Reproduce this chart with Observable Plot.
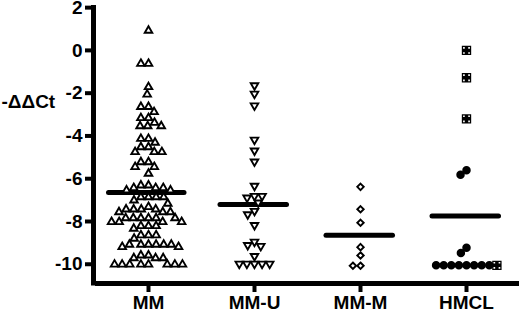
<!DOCTYPE html>
<html><head><meta charset="utf-8">
<script src="https://cdn.jsdelivr.net/npm/d3@7"></script>
<script src="https://cdn.jsdelivr.net/npm/@observablehq/plot@0.6"></script>
<style>body{margin:0;background:#fff} svg{display:block}</style>
</head><body><div id="chart"></div>
<script>
const groups = ["MM", "MM-U", "MM-M", "HMCL"];
const mmValues = [0.93, -0.62, -0.62, -1.71, -2.06, -2.64, -2.64, -2.88, -3.16, -3.16, -3.38,
  -3.54, -3.54, -3.54, -4.13, -4.13, -4.31, -4.52, -4.52, -4.75, -4.75, -4.75, -5.22, -5.22,
  -5.45, -5.45, -5.76, -6.31, -6.31, -6.43, -6.43, -6.43, -6.54, -6.54, -6.86, -6.86, -6.86, -6.86,
  -7.01, -7.16, -7.32, -7.43, -7.43, -7.43, -7.43, -7.56, -7.56, -7.56,
  -7.84, -7.84, -7.84, -7.84, -7.84, -7.84, -8.02, -8.02, -8.02, -8.02, -8.21, -8.21, -8.21, -8.33,
  -8.64, -8.64, -8.64, -8.8, -9.08, -9.08, -9.08, -9.08, -9.08, -9.08, -9.19, -9.19,
  -9.58, -9.58, -9.71, -9.71, -9.71, -10.01, -10.01, -10.01, -10.01, -10.01, -10.01, -10.01, -10.01];
const mmuValues = [-1.64, -2.03, -2.58, -4.18, -4.69, -5.2, -6.34, -6.81, -6.89, -6.81, -7.12,
  -7.51, -7.67, -8.17, -8.95, -9.11, -9.15, -9.62, -9.98, -9.98, -9.98, -9.98, -9.98];
const mmmValues = [-6.38, -7.43, -8.06, -9.2, -9.59, -10.07, -10.07];
const hmclCircleValues = [-5.6, -5.82, -9.23, -9.47, -10.05, -10.05, -10.05, -10.05, -10.05, -10.05, -10.05, -10.05];
const hmclSquareValues = [0, -1.28, -3.2, -10.05];
const centerLines = [-6.65, -7.21, -8.64, -7.74];
const yTicks = [2, 0, -2, -4, -6, -8, -10];
const yLabel = "-ΔΔCt";

// custom symbols
const sqrt3 = Math.sqrt(3);
const triUp = {draw(ctx, size) {
  const y = -Math.sqrt(size * 0.72 / (sqrt3 * 3));
  ctx.moveTo(0, y * 2); ctx.lineTo(-sqrt3 * y, -y); ctx.lineTo(sqrt3 * y, -y); ctx.closePath();
}};
const triDown = {draw(ctx, size) {
  const y = -Math.sqrt(size * 0.72 / (sqrt3 * 3));
  ctx.moveTo(0, -y * 2); ctx.lineTo(sqrt3 * y, y); ctx.lineTo(-sqrt3 * y, y); ctx.closePath();
}};
const diamondSmall = {draw(ctx, size) {
  const r = Math.sqrt(size) * 0.55;
  ctx.moveTo(0, -r); ctx.lineTo(r, 0); ctx.lineTo(0, r); ctx.lineTo(-r, 0); ctx.closePath();
}};
const dotSquare = {draw(ctx, size) {
  const h = Math.sqrt(size) * 0.8;
  ctx.moveTo(-h, -h); ctx.lineTo(h, -h); ctx.lineTo(h, h); ctx.lineTo(-h, h); ctx.closePath();
  const a = h * 0.55, s = h * 0.18;
  for (const [sx, sy] of [[-1, -1], [1, -1], [1, 1], [-1, 1]]) {
    const cx = sx * a, cy = sy * a;
    ctx.moveTo(cx - s, cy - s); ctx.lineTo(cx - s, cy + s); ctx.lineTo(cx + s, cy + s); ctx.lineTo(cx + s, cy - s); ctx.closePath();
  }
}};

const kinds = ["tri", "triDown", "diamond", "circle", "square"];
const kindSymbols = [triUp, triDown, diamondSmall, "circle", dotSquare];
const kindFill = {tri: "white", triDown: "white", diamond: "white", circle: "black", square: "black"};
const kindStroke = {tri: "black", triDown: "black", diamond: "black", circle: "black", square: "none"};

const points = [
  ...mmValues.map(v => ({group: "MM", kind: "tri", value: v})),
  ...mmuValues.map(v => ({group: "MM-U", kind: "triDown", value: v})),
  ...mmmValues.map(v => ({group: "MM-M", kind: "diamond", value: v})),
  ...hmclCircleValues.map(v => ({group: "HMCL", kind: "circle", value: v})),
  ...hmclSquareValues.map(v => ({group: "HMCL", kind: "square", value: v}))
].map(d => ({...d, fillc: kindFill[d.kind], strokec: kindStroke[d.kind]}));

const lines = groups.map((g, i) => ({group: g, value: centerLines[i]}));

const chart = Plot.plot({
  width: 520, height: 313,
  marginLeft: 94, marginRight: 0, marginTop: 5, marginBottom: 30,
  style: {fontFamily: "'Liberation Sans', Arial, sans-serif", fontWeight: "bold", fontSize: "18px", color: "black", background: "white"},
  fx: {domain: groups, padding: 0, label: null},
  x: {domain: [0, 1], axis: null},
  y: {domain: [-10.9, 2.1], label: null},
  symbol: {domain: kinds, range: kindSymbols},
  color: {type: "identity"},
  marks: [
    Plot.axisY({ticks: yTicks, tickSize: 10, tickPadding: 3, strokeWidth: 4, tickFormat: d => String(d), fontSize: 19, fontWeight: "bold", label: null}),
    Plot.axisFx({anchor: "bottom", tickSize: 9, tickPadding: 3, strokeWidth: 4, fontSize: 19, fontWeight: "bold", label: null}),
    Plot.ruleY([-10.9], {strokeWidth: 5}),
    Plot.ruleX([{group: "MM"}], {fx: "group", x: 0, y1: -11.02, y2: 2.1, dx: -2, strokeWidth: 5}),
    Plot.ruleY(lines.filter(d => d.group === "MM"), {fx: "group", y: "value", strokeWidth: 5, strokeLinecap: "round", insetLeft: 13.5, insetRight: 17}),
    Plot.ruleY(lines.filter(d => d.group !== "MM"), {fx: "group", y: "value", strokeWidth: 5, strokeLinecap: "round", insetLeft: 19, insetRight: 20.5}),
    Plot.dot(points, Plot.dodgeX("middle", {fx: "group", y: "value", r: 3.3, padding: 1.2, symbol: "kind", fill: "fillc", stroke: "strokec", strokeWidth: 1.9})),
    Plot.text([{group: "MM", t: yLabel}], {fx: "group", text: "t", y: -2.43, frameAnchor: "left", dx: -94, textAnchor: "start", fontSize: 19, fontWeight: "bold"})
  ]
});
document.getElementById("chart").appendChild(chart);
</script>
</body></html>
